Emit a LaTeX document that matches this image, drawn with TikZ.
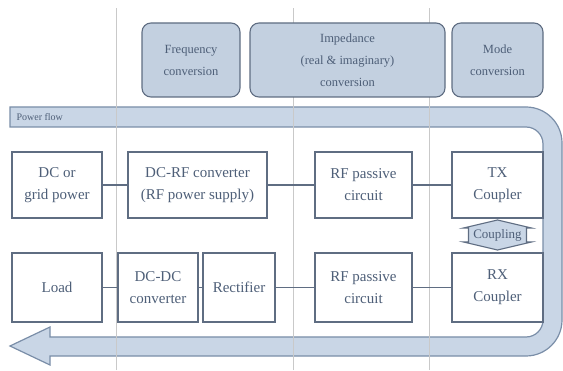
\documentclass[tikz,border=0pt]{standalone}
\usepackage{fontspec}
\setmainfont{Liberation Serif}
\usepackage{tikz}
\usetikzlibrary{calc}
\definecolor{flowfill}{HTML}{C9D6E6}
\definecolor{flowedge}{HTML}{7A8EA8}
\definecolor{boxedge}{HTML}{5F6D82}
\definecolor{labeltext}{HTML}{4E5F78}
\definecolor{gridline}{HTML}{C9C9C9}
\definecolor{stagefill}{HTML}{C3D0E0}

\begin{document}
\begin{tikzpicture}[x=1pt,y=1pt,
  block/.style={draw=boxedge, fill=white, line width=1.1pt, align=center, inner sep=0pt,
    text=labeltext, font=\fontsize{15}{22}\selectfont},
  stage/.style={draw=boxedge, fill=stagefill, line width=1.1pt, rounded corners=9pt, align=center,
    inner sep=0pt, text=labeltext, font=\fontsize{12.5}{22}\selectfont, minimum height=74pt},
  link/.style={draw=boxedge, line width=1.2pt}]
  \useasboundingbox (0,0) rectangle (563,370);

  % power flow band, out along the top and back along the bottom
  \path[fill=flowfill, draw=flowedge, line width=1.2pt]
    (10,263) -- (526,263) arc[start angle=90, end angle=0, radius=36]
    -- (562,50) arc[start angle=0, end angle=-90, radius=36]
    -- (50,14) -- (50,5) -- (10,24) -- (50,43) -- (50,33)
    -- (526,33) arc[start angle=-90, end angle=0, radius=17]
    -- (543,226) arc[start angle=0, end angle=90, radius=17]
    -- (10,243) -- cycle;
  \node[anchor=west, text=labeltext, font=\fontsize{10}{10}\selectfont] (flowlbl) at (13,253) {Power flow};

  \foreach \gx in {116,293,429}
    \draw[gridline, line width=0.9pt] (\gx,0) -- (\gx,362);

  \node[stage, minimum width=98pt]  (freq)  at (191,310)   {Frequency\\conversion};
  \node[stage, minimum width=195pt] (imped) at (347.5,310) {Impedance\\(real \& imaginary)\\conversion};
  \node[stage, minimum width=91pt]  (mode)  at (497.5,310) {Mode\\conversion};

  \node[block, minimum width=90pt, minimum height=66pt]  (dcsrc) at (57,185)    {DC or\\grid power};
  \node[block, minimum width=139pt, minimum height=66pt] (dcrf)  at (197.5,185) {DC-RF converter\\(RF power supply)};
  \node[block, minimum width=97pt, minimum height=66pt]  (rfa)   at (363.5,185) {RF passive\\circuit};
  \node[block, minimum width=91pt, minimum height=66pt]  (tx)    at (497.5,185) {TX\\Coupler};

  \node[block, minimum width=90pt, minimum height=69pt]  (load)  at (57,82.5)    {Load};
  \node[block, minimum width=80pt, minimum height=69pt]  (dcdc)  at (158,82.5)   {DC-DC\\converter};
  \node[block, minimum width=72pt, minimum height=69pt]  (rect)  at (239,82.5)   {Rectifier};
  \node[block, minimum width=97pt, minimum height=69pt]  (rfb)   at (363.5,82.5) {RF passive\\circuit};
  \node[block, minimum width=91pt, minimum height=69pt]  (rx)    at (497.5,82.5) {RX\\Coupler};

  \draw[link] (dcsrc) -- (dcrf);
  \draw[link] (dcrf) -- (rfa);
  \draw[link] (rfa) -- (tx);
  \draw[link] (load) -- (dcdc);
  \draw[link] (dcdc) -- (rect);
  \draw[link] (rect) -- (rfb);
  \draw[link] (rfb) -- (rx);

  % coupling between the two couplers
  \coordinate (coupc) at (497.5,135);
  \path[fill=flowfill, draw=boxedge, line width=1.1pt]
    ($(coupc)+(0,15)$) -- ++(34,-8) -- ++(-5,0) -- ++(0,-14) -- ++(5,0) -- ++(-34,-8)
    -- ++(-34,8) -- ++(5,0) -- ++(0,14) -- ++(-5,0) -- cycle;
  \node[text=labeltext, font=\fontsize{13}{13}\selectfont, inner sep=0pt] (coup) at (coupc) {Coupling};
\end{tikzpicture}
\end{document}
